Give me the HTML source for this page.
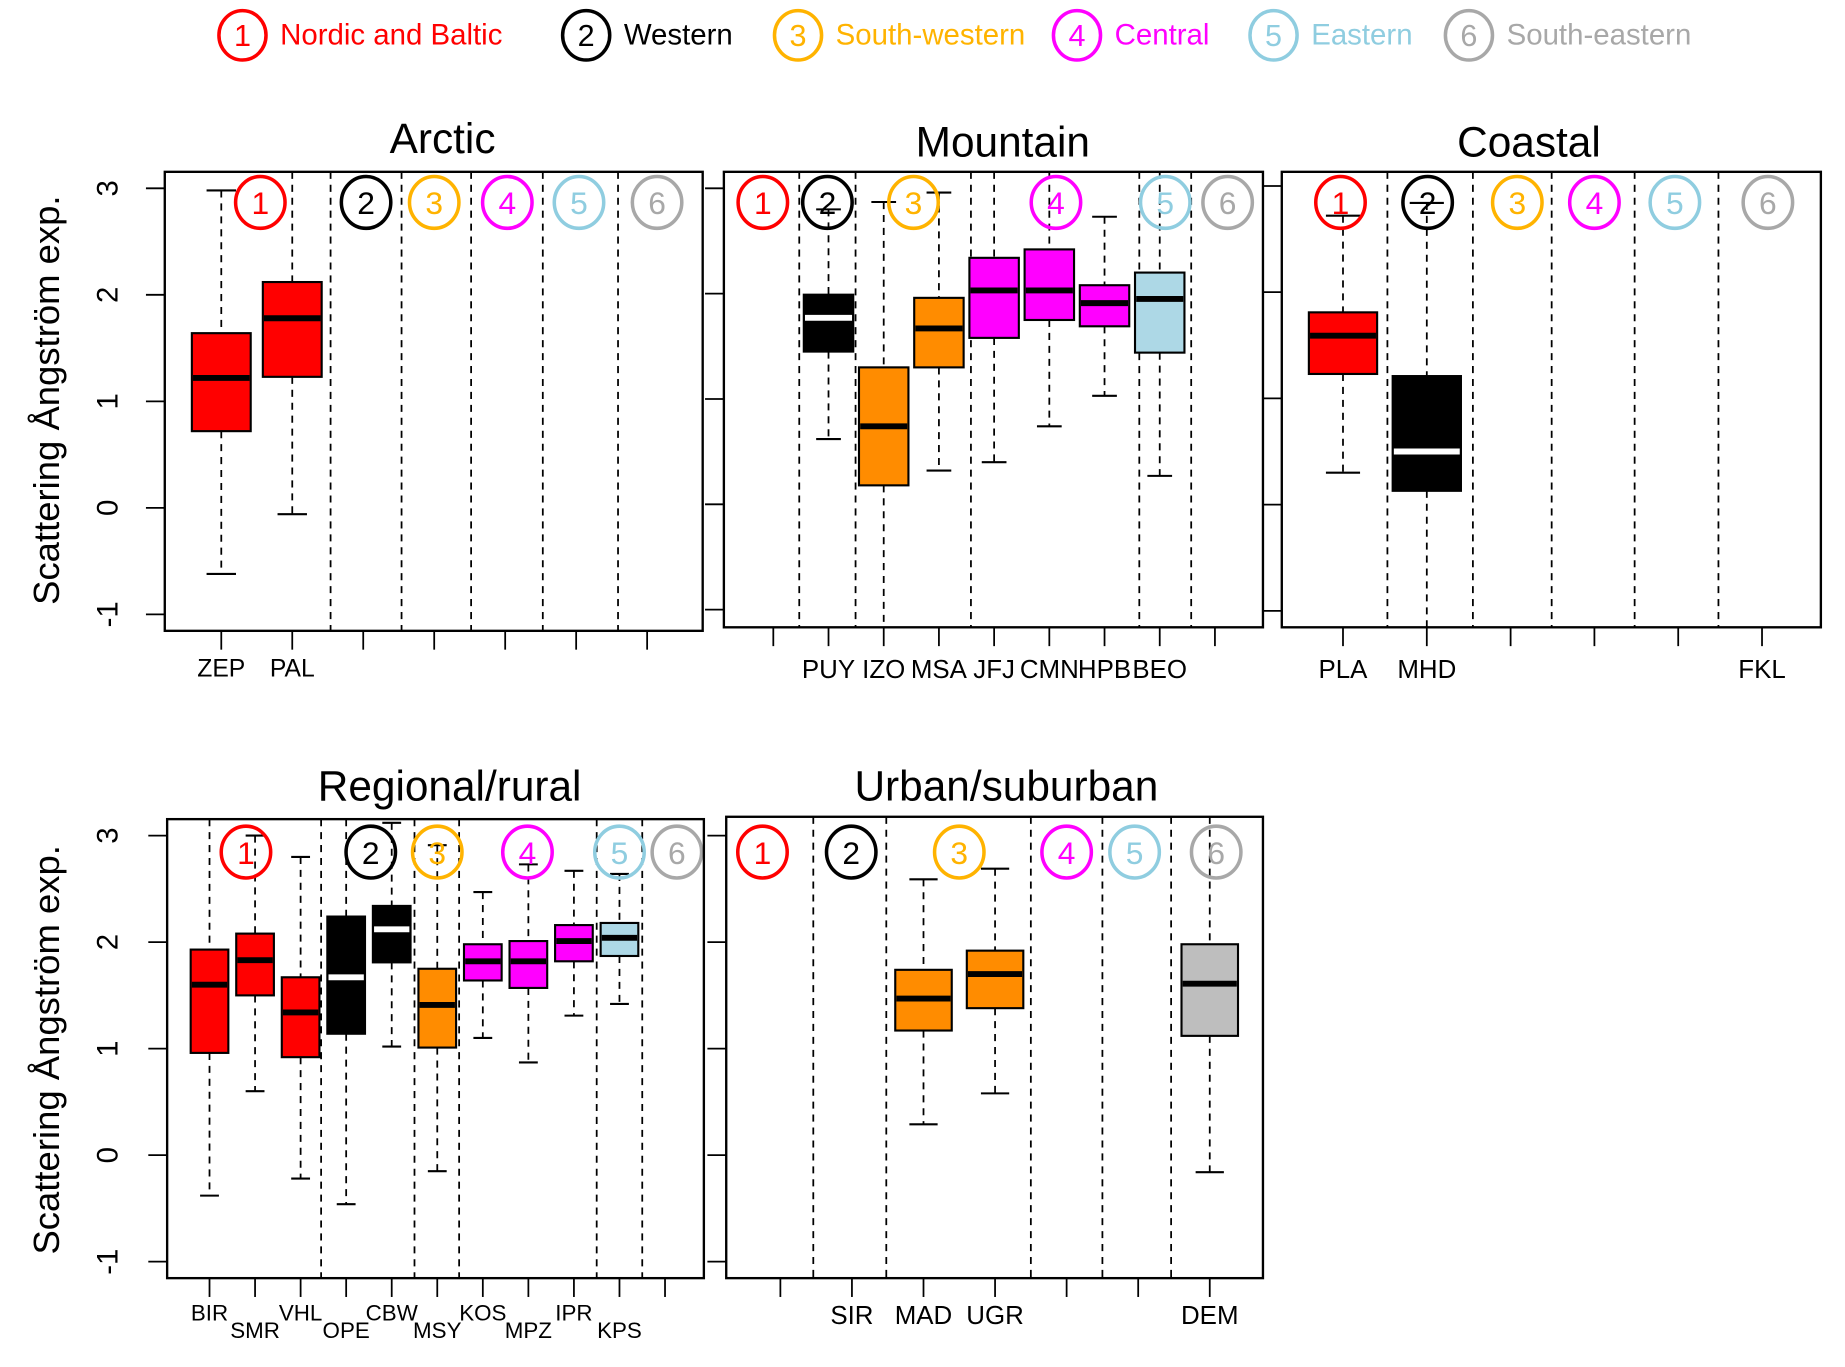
<!DOCTYPE html>
<html><head><meta charset="utf-8"><style>
html,body{margin:0;padding:0;background:#fff;}
svg{display:block;}
text{font-family:"Liberation Sans",sans-serif;}
</style></head><body>
<svg id="c" width="1845" height="1367" viewBox="0 0 1567.5 1161.5" preserveAspectRatio="none" xmlns="http://www.w3.org/2000/svg">
<g id="legend"></g>
<text x="0" y="0" transform="translate(50,340) rotate(-90)" text-anchor="middle" font-size="31">Scattering Ångström exp.</text>
<text x="0" y="0" transform="translate(50,892) rotate(-90)" text-anchor="middle" font-size="31">Scattering Ångström exp.</text>
</svg>
<script>
const regionNames = ["Nordic and Baltic","Western","South-western","Central","Eastern","South-eastern"];
const regionColors = ["#ff0000","#000000","#ffb300","#ff00ff","#8fcde0","#a8a8a8"];
const boxFills = ["#ff0000","#000000","#ff8c00","#ff00ff","#add8e6","#bebebe"];
const yTicks = [-1,0,1,2,3];

const arcticStations = ["ZEP","PAL"];
const arcticRegion = [0,0];
const arcticSlot = [0,1];
const arcticLo = [-0.62,-0.06];
const arcticQ1 = [0.72,1.23];
const arcticMed = [1.22,1.78];
const arcticQ3 = [1.64,2.12];
const arcticHi = [2.98,3.3];

const mountainStations = ["PUY","IZO","MSA","JFJ","CMN","HPB","BEO"];
const mountainRegion = [1,2,2,3,3,3,4];
const mountainSlot = [1,2,3,4,5,6,7];
const mountainLo = [0.62,-1.3,0.32,0.40,0.74,1.03,0.27];
const mountainQ1 = [1.45,0.18,1.30,1.58,1.75,1.69,1.44];
const mountainMed = [1.77,0.74,1.67,2.03,2.03,1.91,1.95];
const mountainQ3 = [1.99,1.30,1.96,2.34,2.42,2.08,2.20];
const mountainHi = [2.80,2.87,2.96,3.3,3.3,2.73,3.3];

const coastalStations = ["PLA","MHD"];
const coastalRegion = [0,1];
const coastalSlot = [0,1];
const coastalLo = [0.30,-1.3];
const coastalQ1 = [1.23,0.13];
const coastalMed = [1.59,0.50];
const coastalQ3 = [1.81,1.21];
const coastalHi = [2.72,2.84];

const regionalStations = ["BIR","SMR","VHL","OPE","CBW","MSY","KOS","MPZ","IPR","KPS"];
const regionalRegion = [0,0,0,1,1,2,3,3,3,4];
const regionalSlot = [0,1,2,3,4,5,6,7,8,9];
const regionalLo = [-0.38,0.60,-0.22,-0.46,1.02,-0.15,1.10,0.87,1.31,1.42];
const regionalQ1 = [0.96,1.50,0.92,1.14,1.81,1.01,1.64,1.57,1.82,1.87];
const regionalMed = [1.60,1.83,1.34,1.67,2.12,1.41,1.82,1.82,2.01,2.04];
const regionalQ3 = [1.93,2.08,1.67,2.24,2.34,1.75,1.98,2.01,2.16,2.18];
const regionalHi = [3.3,3.0,2.80,3.3,3.12,2.91,2.47,2.73,2.67,2.64];

const urbanStations = ["MAD","UGR","DEM"];
const urbanRegion = [2,2,5];
const urbanSlot = [2,3,6];
const urbanLo = [0.29,0.58,-0.16];
const urbanQ1 = [1.17,1.38,1.12];
const urbanMed = [1.47,1.70,1.61];
const urbanQ3 = [1.74,1.92,1.98];
const urbanHi = [2.59,2.69,3.18];

const svg = document.getElementById('c');
const NS = 'http://www.w3.org/2000/svg';
function mk(tag, attrs, parent){
  const e = document.createElementNS(NS, tag);
  for (const k in attrs) e.setAttribute(k, attrs[k]);
  (parent||svg).appendChild(e); return e;
}

const legendX = [206,498,678,915,1082,1248];
const lg = document.getElementById('legend');
regionNames.forEach((n,i)=>{
  const c = mk('ellipse',{cx:legendX[i],cy:30,rx:20,ry:21,fill:'none',stroke:regionColors[i],'stroke-width':3},lg);
  
  
  const t = mk('text',{x:legendX[i],y:39,'text-anchor':'middle','font-size':26,fill:regionColors[i]},lg);
  t.textContent = String(i+1);
  
  
  const l = mk('text',{x:legendX[i]+32,y:38,'font-size':25,fill:regionColors[i]},lg);
  l.textContent = n;
  
  
});

const panels = [
 {id:'arctic',title:'Arctic',tx:376,ty:130,L:140,R:597,T:146,B:536,y3:160,ym1:522,x0:188,step:60.3,nT:7,axisLabels:true,
  dividers:[1.54,2.54,3.52,4.53,5.59],circ:[0.55,2.04,3.0,4.03,5.04,6.14],cy:172,bw:50,
  st:arcticStations,rg:arcticRegion,sl:arcticSlot,lo:arcticLo,q1:arcticQ1,md:arcticMed,q3:arcticQ3,hi:arcticHi,
  labels:[[0,'ZEP',0],[1,'PAL',0]],ly:575,lfs:21},
 {id:'mountain',title:'Mountain',tx:852,ty:133,L:615,R:1073,T:146,B:533,y3:160,ym1:518,x0:657,step:46.9,nT:9,axisLabels:false,
  dividers:[0.47,1.49,3.58,6.63,7.57],circ:[-0.19,0.98,2.54,5.12,7.1,8.23],cy:172,bw:42,
  st:mountainStations,rg:mountainRegion,sl:mountainSlot,lo:mountainLo,q1:mountainQ1,md:mountainMed,q3:mountainQ3,hi:mountainHi,
  labels:[[1,'PUY',0],[2,'IZO',0],[3,'MSA',0],[4,'JFJ',0],[5,'CMN',0],[6,'HPB',0],[7,'BEO',0]],ly:576,lfs:22},
 {id:'coastal',title:'Coastal',tx:1299,ty:133,L:1089,R:1547,T:146,B:533,y3:158,ym1:519,x0:1141,step:71.2,nT:6,axisLabels:false,
  dividers:[0.53,1.55,2.49,3.48,4.48],circ:[-0.03,1.01,2.08,3.0,3.96,5.07],cy:172,bw:58,
  st:coastalStations,rg:coastalRegion,sl:coastalSlot,lo:coastalLo,q1:coastalQ1,md:coastalMed,q3:coastalQ3,hi:coastalHi,
  labels:[[0,'PLA',0],[1,'MHD',0],[5,'FKL',0]],ly:576,lfs:22},
 {id:'regional',title:'Regional/rural',tx:382,ty:680,L:142,R:598,T:696,B:1086,y3:710,ym1:1072,x0:178,step:38.7,nT:11,axisLabels:true,
  dividers:[2.45,4.5,5.48,8.5,9.5],circ:[0.8,3.54,5.0,6.98,9.0,10.26],cy:724,bw:32,
  st:regionalStations,rg:regionalRegion,sl:regionalSlot,lo:regionalLo,q1:regionalQ1,md:regionalMed,q3:regionalQ3,hi:regionalHi,
  labels:[[0,'BIR',0],[1,'SMR',1],[2,'VHL',0],[3,'OPE',1],[4,'CBW',0],[5,'MSY',1],[6,'KOS',0],[7,'MPZ',1],[8,'IPR',0],[9,'KPS',1]],ly:1122,lfs:19},
 {id:'urban',title:'Urban/suburban',tx:855,ty:680,L:617,R:1073,T:694,B:1086,y3:710,ym1:1072,x0:663,step:60.8,nT:7,axisLabels:false,
  dividers:[0.46,1.48,3.5,4.5,5.46],circ:[-0.25,0.99,2.5,4.0,4.95,6.09],cy:724,bw:48,
  st:urbanStations,rg:urbanRegion,sl:urbanSlot,lo:urbanLo,q1:urbanQ1,md:urbanMed,q3:urbanQ3,hi:urbanHi,
  labels:[[1,'SIR',0],[2,'MAD',0],[3,'UGR',0],[6,'DEM',0]],ly:1125,lfs:22}
];

panels.forEach(p=>{
  const g = mk('g',{});
  
  
  const yS = v => p.y3 + (3 - v) * (p.ym1 - p.y3) / 4;
  const xS = s => p.x0 + s * p.step;
  const clamp = y => Math.max(p.T, Math.min(p.B, y));
  const t = mk('text',{x:p.tx,y:p.ty,'text-anchor':'middle','font-size':36},g);
  t.textContent = p.title;
  
  
  yTicks.forEach(v=>{
    const tk = mk('line',{x1:p.L-16,x2:p.L,y1:yS(v),y2:yS(v),stroke:'#000','stroke-width':1.5},g);
    
    
    if (p.axisLabels){
      const tl = mk('text',{'text-anchor':'middle','font-size':25,transform:'translate(100,'+yS(v)+') rotate(-90)'},g);
      tl.textContent = String(v);
      
      
    }
  });
  for (let i=0;i<p.nT;i++){
    const xt = mk('line',{x1:xS(i),x2:xS(i),y1:p.B,y2:p.B+16,stroke:'#000','stroke-width':1.5},g);
    
    
  }
  p.dividers.forEach(d=>{
    const dl = mk('line',{x1:xS(d),x2:xS(d),y1:p.T,y2:p.B,stroke:'#000','stroke-width':1.5,'stroke-dasharray':'6,5'},g);
    
    
  });
  p.st.forEach((s,i)=>{
    const x = xS(p.sl[i]), w = p.bw, fill = boxFills[p.rg[i]];
    const bg = mk('g',{},g);
    
    
    const yHi = clamp(yS(p.hi[i])), yLo = clamp(yS(p.lo[i]));
    mk('line',{x1:x,x2:x,y1:yHi,y2:yS(p.q3[i]),stroke:'#000','stroke-width':1.5,'stroke-dasharray':'6,5'},bg);
    mk('line',{x1:x,x2:x,y1:yS(p.q1[i]),y2:yLo,stroke:'#000','stroke-width':1.5,'stroke-dasharray':'6,5'},bg);
    if (yS(p.hi[i]) >= p.T) mk('line',{x1:x-w/4,x2:x+w/4,y1:yHi,y2:yHi,stroke:'#000','stroke-width':1.8},bg);
    if (yS(p.lo[i]) <= p.B) mk('line',{x1:x-w/4,x2:x+w/4,y1:yLo,y2:yLo,stroke:'#000','stroke-width':1.8},bg);
    mk('rect',{x:x-w/2,y:yS(p.q3[i]),width:w,height:yS(p.q1[i])-yS(p.q3[i]),fill:fill,stroke:'#000','stroke-width':1.8},bg);
    const mc = p.rg[i]===1 ? '#fff' : '#000';
    mk('line',{x1:x-w/2+1,x2:x+w/2-1,y1:yS(p.md[i]),y2:yS(p.md[i]),stroke:mc,'stroke-width':5},bg);
  });
  p.circ.forEach((c,i)=>{
    const e = mk('ellipse',{cx:xS(c),cy:p.cy,rx:21,ry:22,fill:'none',stroke:regionColors[i],'stroke-width':3},g);
    
    
    const n = mk('text',{x:xS(c),y:p.cy+10,'text-anchor':'middle','font-size':27,fill:regionColors[i]},g);
    n.textContent = String(i+1);
    
    
  });
  const fr = mk('rect',{x:p.L,y:p.T,width:p.R-p.L,height:p.B-p.T,fill:'none',stroke:'#000','stroke-width':2},g);
  
  
  p.labels.forEach(l=>{
    const tx = mk('text',{x:xS(l[0]),y:p.ly+l[2]*15,'text-anchor':'middle','font-size':p.lfs},g);
    tx.textContent = l[1];
    
    
  });
});
</script>
</body></html>
